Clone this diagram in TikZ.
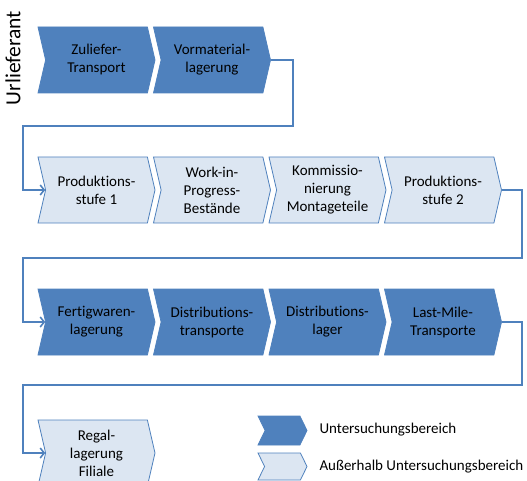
\documentclass[tikz,border=0pt]{standalone}
\usepackage{fontspec}
\setmainfont{Carlito}[Ligatures={NoCommon}]
\usetikzlibrary{shapes.symbols,arrows.meta}
\definecolor{dk}{RGB}{79,129,189}
\definecolor{lt}{RGB}{220,230,242}
\begin{document}
\begin{tikzpicture}[x=1pt,y=-1pt,
  chev/.style={signal, signal to=east, signal from=west, signal pointer angle=154,
    minimum width=117pt, minimum height=66pt, inner sep=0pt, align=center,
    font=\fontsize{15}{18}\selectfont, line width=0.8pt},
  dkbox/.style={chev, fill=dk, draw=dk},
  ltbox/.style={chev, fill=lt, draw=dk},
  legchev/.style={signal, signal to=east, signal from=west, signal pointer angle=128,
    minimum width=49pt, inner sep=0pt, line width=0.8pt},
  conn/.style={draw=dk, line width=2.2pt, -{Straight Barb[length=4pt,width=10pt,line width=1.6pt]}},
  leg/.style={anchor=west, font=\fontsize{15}{18}\selectfont}]
\useasboundingbox (0,0) rectangle (527,481);
\clip (0,0) rectangle (527,481);
\node[rotate=90, font=\fontsize{21.5}{26}\selectfont] (ur) at (13,58) {Urlieferant};
% row 1
\node[dkbox] (a1) at (96.5,60) {Zuliefer-\\Transport};
\node[dkbox] (a2) at (212,60) {Vormaterial-\\lagerung};
% row 2
\node[ltbox] (b1) at (96.5,190) {Produktions-\\stufe 1};
\node[ltbox] (b2) at (212,190) {Work-in-\\Progress-\\Bestände};
\node[ltbox] (b3) at (327.5,190) {Kommissio-\\nierung\\Montageteile};
\node[ltbox] (b4) at (443,190) {Produktions-\\stufe 2};
% row 3
\node[dkbox] (c1) at (96.5,322) {Fertigwaren-\\lagerung};
\node[dkbox] (c2) at (212,322) {Distributions-\\transporte};
\node[dkbox] (c3) at (327.5,322) {Distributions-\\lager};
\node[dkbox] (c4) at (443,322) {Last-Mile-\\Transporte};
% row 4
\node[ltbox] (d1) at (96.5,453) {Regal-\\lagerung\\Filiale};
% legend
\node[legchev, fill=dk, draw=dk, minimum height=29pt] (l1) at (282.5,430.5) {};
\node[legchev, fill=lt, draw=dk, minimum height=27pt] (l2) at (282.5,466.5) {};
\node[leg] (t1) at (316,430) {Untersuchungsbereich};
\node[leg] (t2) at (316,467) {Außerhalb Untersuchungsbereich};
% connectors
\coordinate (k1) at (293,126);
\coordinate (k2) at (23,126);
\coordinate (k3) at (522,258);
\coordinate (k4) at (23,258);
\coordinate (k5) at (522,385);
\coordinate (k6) at (23,385);
\draw[conn] (a2.east) -| (k1) -- (k2) |- (b1.west);
\draw[conn] (b4.east) -| (k3) -- (k4) |- (c1.west);
\draw[conn] (c4.east) -| (k5) -- (k6) |- (d1.west);
\end{tikzpicture}
\end{document}
